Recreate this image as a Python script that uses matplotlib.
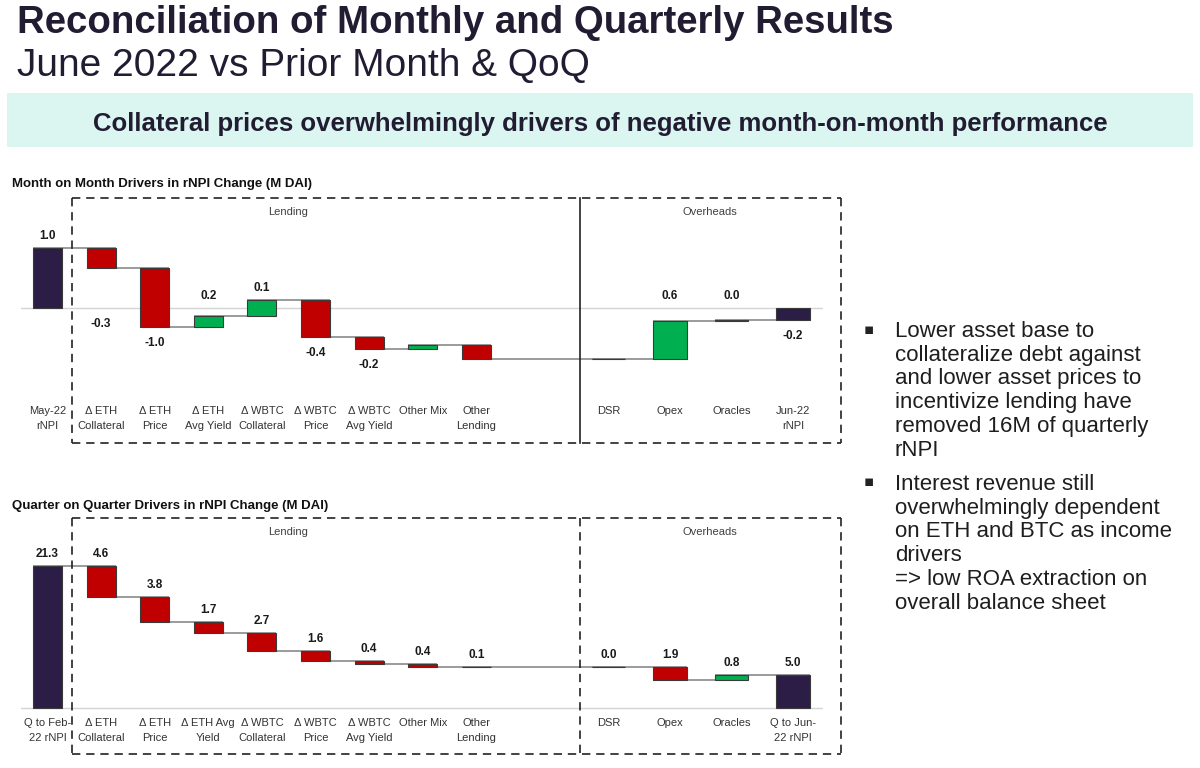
import matplotlib
matplotlib.use("Agg")
import matplotlib.pyplot as plt
from matplotlib.patches import Rectangle
from matplotlib.lines import Line2D

W, H = 1200, 768

NAVY = "#2c1d47"
RED = "#c00000"
GREEN = "#00b050"
EDGE = "#3a3a3a"
LINK = "#808080"
INK = "#221c33"

# month on month (M DAI)
mom_cats = ["May-22\nrNPI", "Δ ETH\nCollateral", "Δ ETH\nPrice", "Δ ETH\nAvg Yield",
            "Δ WBTC\nCollateral", "Δ WBTC\nPrice", "Δ WBTC\nAvg Yield", "Other Mix",
            "Other\nLending", "DSR", "Opex", "Oracles", "Jun-22\nrNPI"]
mom_start = 1.0
mom_deltas = [-0.33, -0.99, 0.19, 0.26, -0.61, -0.20, 0.07, -0.24, 0.0, 0.63, 0.02]
mom_end = -0.2
mom_text = ["1.0", "-0.3", "-1.0", "0.2", "0.1", "-0.4", "-0.2", "", "", "", "0.6", "0.0", "-0.2"]

# quarter on quarter (M DAI)
qoq_cats = ["Q to Feb-\n22 rNPI", "Δ ETH\nCollateral", "Δ ETH\nPrice", "Δ ETH Avg\nYield",
            "Δ WBTC\nCollateral", "Δ WBTC\nPrice", "Δ WBTC\nAvg Yield", "Other Mix",
            "Other\nLending", "DSR", "Opex", "Oracles", "Q to Jun-\n22 rNPI"]
qoq_start = 21.3
qoq_deltas = [-4.6, -3.8, -1.7, -2.7, -1.5, -0.4, -0.4, -0.1, 0.0, -1.9, 0.8]
qoq_end = 5.0
qoq_text = ["21.3", "4.6", "3.8", "1.7", "2.7", "1.6", "0.4", "0.4", "0.1", "0.0", "1.9", "0.8", "5.0"]

bullets = [
    "Lower asset base to\ncollateralize debt against\nand lower asset prices to\n"
    "incentivize lending have\nremoved 16M of quarterly\nrNPI",
    "Interest revenue still\noverwhelmingly dependent\non ETH and BTC as income\n"
    "drivers\n=> low ROA extraction on\noverall balance sheet",
]

plt.rcParams["font.family"] = ["Liberation Sans", "DejaVu Sans"]

fig = plt.figure(figsize=(12, 7.68), dpi=100)


def fx(x):
    return x / W


def fy(y):
    return 1 - y / H


def px_axes(x0, y0, x1, y1):
    return fig.add_axes([fx(x0), fy(y1), (x1 - x0) / W, (y1 - y0) / H])


def waterfall(y0, y1, zero_px, scale, start, deltas, end, cats, texts, signed, pad):
    lows, highs, colors, levels, signs = [], [], [], [], []
    lows.append(min(0, start)); highs.append(max(0, start)); colors.append(NAVY)
    levels.append(start); signs.append(start)
    lvl = start
    for d in deltas:
        new = lvl + d
        lows.append(min(lvl, new)); highs.append(max(lvl, new))
        colors.append(GREEN if d > 0 else RED)
        levels.append(new); signs.append(d)
        lvl = new
    lows.append(min(0, end)); highs.append(max(0, end)); colors.append(NAVY)
    levels.append(end); signs.append(end)

    ylim = ((zero_px - y1) / scale, (zero_px - y0) / scale)
    # two panels: lending (9 bars) and overheads (4 bars)
    panels = [
        (px_axes(21, y0, 580, y1), range(0, 9), (-26.5 / 53.6, 532.5 / 53.6), 0.54),
        (px_axes(580, y0, 823, y1), range(9, 13), (-28.5 / 61.5, 214.5 / 61.5), 0.55),
    ]
    for ax, idx, xl, w in panels:
        idx = list(idx)
        pos = list(range(len(idx)))
        ax.set_xlim(*xl)
        ax.set_ylim(*ylim)
        ax.axhline(0, color="#d4d4d4", lw=1.0, zorder=0)
        ax.bar(pos, [highs[i] - lows[i] for i in idx], bottom=[lows[i] for i in idx],
               width=w, color=[colors[i] for i in idx], edgecolor=EDGE, linewidth=0.8, zorder=2)
        # connectors
        for k, i in enumerate(idx):
            if i + 1 >= len(levels):
                continue
            xa = pos[k] - w / 2
            xb = pos[k + 1] + w / 2 if k + 1 < len(pos) else xl[1]
            ax.plot([xa, xb], [levels[i], levels[i]], color=LINK, lw=1.1, zorder=1,
                    solid_capstyle="butt")
        if idx[0] > 0:
            ax.plot([xl[0], pos[0] + w / 2], [levels[idx[0] - 1]] * 2, color=LINK, lw=1.1,
                    zorder=1, solid_capstyle="butt")
        # value labels
        for k, i in enumerate(idx):
            if not texts[i]:
                continue
            if signed and signs[i] < 0:
                y, off = min(lows[i], 0), -16
            else:
                y, off = max(highs[i], 0), 12
            ax.annotate(texts[i], (pos[k], y), xytext=(0, off), textcoords="offset pixels",
                        ha="center", va="center", fontsize=8.5, fontweight="bold",
                        color="#1a1a1a")
        ax.set_xticks(pos, [cats[i] for i in idx])
        ax.set_yticks([])
        ax.tick_params(axis="x", length=0, pad=pad, labelsize=8, labelcolor="#333333")
        for lbl in ax.get_xticklabels():
            lbl.set_linespacing(1.6)
        for s in ax.spines.values():
            s.set_visible(False)
        ax.patch.set_alpha(0)


def group_boxes(y0, y1, ty, sep_style):
    kw = dict(color="#222222", lw=1.2, transform=fig.transFigure)
    dash = (0, (5, 3.5))
    for xs, ys in [([72, 841], [y0, y0]), ([72, 841], [y1, y1]), ([72, 72], [y0, y1]),
                   ([841, 841], [y0, y1])]:
        fig.add_artist(Line2D([fx(x) for x in xs], [fy(y) for y in ys], linestyle=dash, **kw))
    fig.add_artist(Line2D([fx(580), fx(580)], [fy(y0), fy(y1)],
                          linestyle=sep_style if sep_style == "-" else dash, **kw))
    fig.text(fx(288), fy(ty), "Lending", ha="center", va="center", fontsize=8, color="#404040")
    fig.text(fx(710), fy(ty), "Overheads", ha="center", va="center", fontsize=8, color="#404040")


# header
fig.text(fx(17), fy(33), "Reconciliation of Monthly and Quarterly Results", fontsize=27.6,
         fontweight="bold", color=INK, va="baseline")
fig.text(fx(17), fy(76), "June 2022 vs Prior Month & QoQ", fontsize=28, color=INK, va="baseline")
fig.add_artist(Rectangle((fx(7), fy(147)), (1193 - 7) / W, (147 - 93) / H,
                         transform=fig.transFigure, color="#dbf5f0", lw=0, zorder=0))
fig.text(fx(600), fy(131), "Collateral prices overwhelmingly drivers of negative month-on-month performance",
         ha="center", va="baseline", fontsize=18.5, fontweight="bold", color=INK)

# month on month
fig.text(fx(12), fy(184), "Month on Month Drivers in rNPI Change (M DAI)", fontsize=9.5,
         fontweight="bold", color="#111111", va="center")
group_boxes(198, 443, 212, "-")
waterfall(220, 395, 308, 60.0, mom_start, mom_deltas, mom_end, mom_cats, mom_text, True, 8)

# quarter on quarter
fig.text(fx(12), fy(506), "Quarter on Quarter Drivers in rNPI Change (M DAI)", fontsize=9.5,
         fontweight="bold", color="#111111", va="center")
group_boxes(518, 754, 532, "--")
waterfall(540, 710, 708, 6.67, qoq_start, qoq_deltas, qoq_end, qoq_cats, qoq_text, False, 6)

# commentary
for txt, yc in zip(bullets, [329, 482]):
    fig.text(fx(869), fy(yc), "▪", fontsize=11, color="#222222", va="center", ha="center",
             family=["DejaVu Sans"])
    fig.text(fx(895), fy(yc - 8), txt, fontsize=16, color="#1e1e1e", va="top",
             linespacing=1.17)

fig.savefig("out.png", dpi=100)
